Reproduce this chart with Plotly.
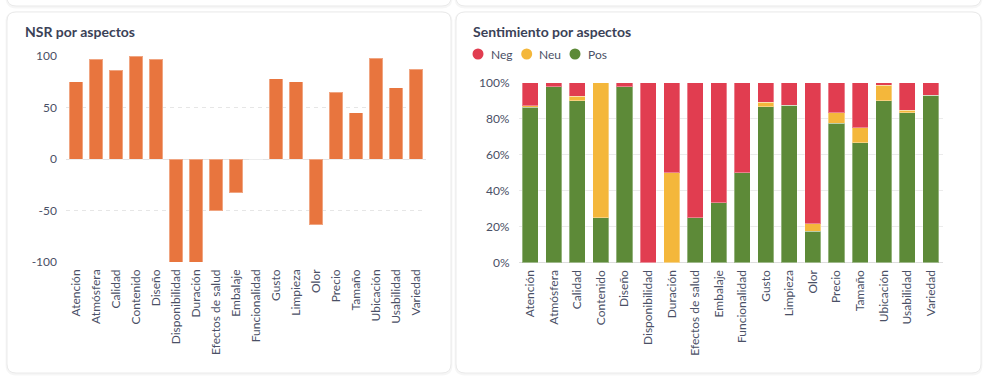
import plotly.graph_objects as go

# ---------------- data ----------------
categories = ["Atención", "Atmósfera", "Calidad", "Contenido", "Diseño",
              "Disponibilidad", "Duración", "Efectos de salud", "Embalaje",
              "Funcionalidad", "Gusto", "Limpieza", "Olor", "Precio", "Tamaño",
              "Ubicación", "Usabilidad", "Variedad"]

nsr = [75, 97, 86, 100, 97, -100, -100, -50, -33, 0, 78, 75, -64, 65, 45, 98, 69, 87]

pos = [86.3, 97.8, 90.0, 25.0, 97.8, 0.0, 0.0, 25.0, 33.3, 50.0, 86.7, 87.5, 17.4, 77.6, 66.7, 90.0, 83.2, 92.9]
neu = [0.9, 0.0, 2.4, 75.0, 0.0, 0.0, 50.0, 0.0, 0.0, 0.0, 2.4, 0.0, 4.3, 5.7, 8.3, 8.7, 1.6, 0.0]
neg = [12.8, 2.2, 7.6, 0.0, 2.2, 100.0, 50.0, 75.0, 66.7, 50.0, 10.9, 12.5, 78.3, 16.7, 25.0, 1.3, 15.2, 7.1]

nsr_ticks = [-100, -50, 0, 50, 100]
nsr_ticktext = ["-100", "-50", "0", "50", "100"]
pct_ticks = [0, 20, 40, 60, 80, 100]
pct_ticktext = ["0%", "20%", "40%", "60%", "80%", "100%"]

legend_names = ["Neg", "Neu", "Pos"]

# ---------------- style ----------------
W, H = 988, 381
FONT = "Lato"
TXT = "#4a5066"
TITLE = "#3b4257"
ORANGE = "#e8753e"
RED = "#e13d50"
YELLOW = "#f4b73b"
GREEN = "#5d8a38"
GRID = "#ebebeb"
COLORS = {"Neg": RED, "Neu": YELLOW, "Pos": GREEN}


def px(x):
    return x / W


def py(y):
    return 1 - y / H


def rrect(x0, y0, x1, y1, r):
    def P(x, y):
        return f"{px(x):.6f},{py(y):.6f}"
    return (f"M {P(x0 + r, y0)} L {P(x1 - r, y0)} Q {P(x1, y0)} {P(x1, y0 + r)} "
            f"L {P(x1, y1 - r)} Q {P(x1, y1)} {P(x1 - r, y1)} "
            f"L {P(x0 + r, y1)} Q {P(x0, y1)} {P(x0, y1 - r)} "
            f"L {P(x0, y0 + r)} Q {P(x0, y0)} {P(x0 + r, y0)} Z")


fig = go.Figure()

# Left chart: NSR
fig.add_trace(go.Bar(
    x=categories, y=nsr, name="NSR", showlegend=False, width=0.67,
    marker=dict(color=ORANGE, line=dict(color="rgba(255,255,255,0.35)", width=1)),
    xaxis="x", yaxis="y",
))

# Right chart: stacked sentiment (Pos bottom, Neu middle, Neg top)
for name, vals in [("Pos", pos), ("Neu", neu), ("Neg", neg)]:
    fig.add_trace(go.Bar(
        x=categories, y=vals, name=name, showlegend=False, width=0.68,
        marker=dict(color=COLORS[name], line=dict(color="rgba(255,255,255,0.35)", width=1)),
        xaxis="x2", yaxis="y2",
    ))

shapes = []
cards = [(7, -30, 451, 6), (456, -30, 981, 6), (7, 12, 451, 373), (456, 12, 981, 373)]
for (x0, y0, x1, y1) in cards:
    shapes.append(dict(type="path", xref="paper", yref="paper", layer="below",
                       path=rrect(x0, y0 + 1, x1, y1 + 1, 9),
                       line=dict(color="rgba(0,0,0,0.035)", width=3),
                       fillcolor="rgba(0,0,0,0)"))
    shapes.append(dict(type="path", xref="paper", yref="paper", layer="below",
                       path=rrect(x0, y0, x1, y1, 9),
                       line=dict(color="#eaeaea", width=1),
                       fillcolor="white"))

annotations = [
    dict(text="NSR por aspectos", x=px(23), y=py(31), xref="paper", yref="paper",
         xanchor="left", yanchor="middle", showarrow=False,
         font=dict(family=FONT, size=14, color=TITLE, weight=700)),
    dict(text="Sentimiento por aspectos", x=px(471), y=py(31), xref="paper", yref="paper",
         xanchor="left", yanchor="middle", showarrow=False,
         font=dict(family=FONT, size=14, color=TITLE, weight=700)),
]

# legend (circle swatches + labels)
legend_x = [478, 526.7, 575]
for name, cx in zip(legend_names, legend_x):
    shapes.append(dict(type="circle", xref="paper", yref="paper", layer="above",
                       x0=px(cx - 5.5), x1=px(cx + 5.5), y0=py(54 + 5.5), y1=py(54 - 5.5),
                       fillcolor=COLORS[name], line=dict(width=0)))
    annotations.append(dict(text=name, x=px(cx + 10.5), y=py(54.5), xref="paper", yref="paper",
                            xanchor="left", yanchor="middle", showarrow=False,
                            font=dict(family=FONT, size=12, color=TXT)))

tickfont = dict(family=FONT, size=12, color=TXT)

fig.update_layout(
    template="none",
    width=W, height=H, autosize=False,
    margin=dict(l=0, r=0, t=0, b=0, pad=0),
    paper_bgcolor="white", plot_bgcolor="rgba(0,0,0,0)",
    barmode="stack", bargap=0.33,
    font=dict(family=FONT, size=12, color=TXT),
    shapes=shapes, annotations=annotations,
    showlegend=False,
    xaxis=dict(domain=[px(66), px(426)], type="category", tickangle=-90, automargin=False,
               tickfont=tickfont, showgrid=False, showline=False, zeroline=False, ticks="",
               ticklabelstandoff=4, fixedrange=True),
    yaxis=dict(domain=[py(262), py(56)], range=[-100, 100], tickvals=nsr_ticks,
               ticktext=nsr_ticktext, automargin=False,
               tickfont=tickfont, showgrid=True, gridcolor="#e6e6e6", griddash="4px,4px",
               gridwidth=1, showline=False,
               zeroline=True, zerolinecolor="#e3e3e3", zerolinewidth=1,
               ticks="", ticklabelstandoff=8, fixedrange=True),
    xaxis2=dict(domain=[px(518.5), px(942.5)], type="category", tickangle=-90, automargin=False,
                tickfont=tickfont, showgrid=False, showline=False, zeroline=False, ticks="",
                ticklabelstandoff=4, fixedrange=True, anchor="y2"),
    yaxis2=dict(domain=[py(262.7), py(82.7)], range=[0, 100], tickvals=pct_ticks,
                ticktext=pct_ticktext, tickfont=tickfont, showgrid=True, gridcolor=GRID,
                gridwidth=1, showline=False, automargin=False,
                zeroline=True, zerolinecolor="#dedede", zerolinewidth=1,
                ticks="", ticklabelstandoff=8, fixedrange=True, anchor="x2"),
)

fig.write_html("out.html", config={"displayModeBar": False},
               post_script="document.body.style.margin='0';document.body.style.overflow='hidden';")
